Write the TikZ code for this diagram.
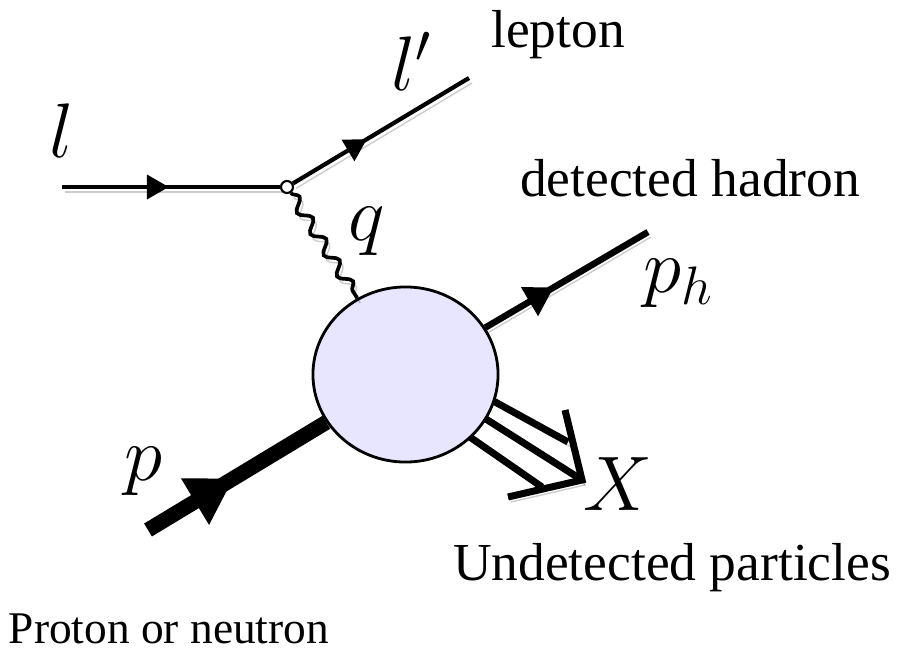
\documentclass[tikz,border=0pt]{standalone}
\usepackage{fix-cm}
\usepackage{amsmath}
\usepackage{fontspec}
\newfontfamily\labelfont{Liberation Serif}
\usepackage{tikz}
\usetikzlibrary{arrows.meta, decorations.markings, decorations.pathmorphing, shapes.geometric, backgrounds}

\definecolor{blobfill}{RGB}{231,229,255}

\begin{document}
\begin{tikzpicture}[x=0.01cm, y=-0.01cm,
    every node/.style={inner sep=0pt},
    textlabel/.style={font=\labelfont\fontsize{15.2}{18}\selectfont, anchor=base},
    momentum/.style={font=\fontsize{22}{26}\selectfont, anchor=base west},
    shadowed/.style={preaction={draw, black, opacity=0.2, transform canvas={shift={(3,5)}}}},
    midarrow/.style 2 args={postaction={decorate},
        decoration={markings, mark=at position #1 with {\arrow{#2}}}},
    fermion/.style={shadowed, line width=1.2pt,
        midarrow={#1}{Triangle[length=0.22cm, width=0.24cm]}},
    hadron/.style={shadowed, line width=1.85pt,
        midarrow={#1}{Triangle[length=0.28cm, width=0.32cm]}},
    nucleon/.style={shadowed, line width=4.3pt,
        midarrow={#1}{Triangle[length=0.45cm, width=0.51cm]}},
    photon/.style={shadowed, line width=1.05pt, decorate,
        decoration={snake, amplitude=0.055cm, segment length=0.25cm}},
    jet/.style={shadowed, line width=2pt},
    vertex/.style={circle, draw, line width=0.6pt, fill=white, minimum size=0.12cm},
    blob/.style={ellipse, draw, line width=0.8pt, fill=blobfill,
        minimum width=1.85cm, minimum height=1.75cm}
]
\useasboundingbox (0,0) rectangle (900,652);

% Vertices
\node[vertex] (vtx) at (287,187) {};
\node[blob] (blob) at (405.5,374.5) {};

% Lepton lines
\coordinate (lin) at (62,187);
\coordinate (lout) at (469,78);
\draw[fermion=0.49] (lin) -- (vtx);
\draw[fermion=0.42] (vtx) -- (lout);

% Virtual photon
\draw[photon] (vtx) -- (blob);

% Detected hadron
\coordinate (hout) at (648,232);
\draw[hadron=0.42] (blob) -- (hout);

% Incoming nucleon
\coordinate (pin) at (148,530);
\draw[nucleon=0.48] (pin) -- (blob);

% Undetected particles X
\coordinate (xup) at (568,442);
\coordinate (xtip) at (582,480);
\coordinate (xlow) at (542,487);
\coordinate (armup) at (565,410);
\coordinate (armlow) at (508,497);
\begin{scope}[on background layer]
\draw[jet, shorten <=-4pt] (blob.-17) -- (xup);
\draw[jet, shorten <=-4pt] (blob.-29) -- (xtip);
\draw[jet, shorten <=-4pt] (blob.-44) -- (xlow);
\end{scope}
\draw[jet, line join=miter] (armup) -- (xtip) -- (armlow);

% Momentum labels
\node[momentum] (lbl-l) at (49,158) {$l$};
\node[momentum] (lbl-lp) at (391,91) {$l'$};
\node[momentum] (lbl-q) at (348,241) {$q$};
\node[momentum] (lbl-ph) at (643,293) {$p_h$};
\node[momentum] (lbl-p) at (124,481) {$p$};
\node[momentum] (lbl-X) at (583,510) {$X$};

% Text labels
\node[textlabel] (lepton) at (558,48) {lepton};
\node[textlabel] (detected) at (690,197) {detected hadron};
\node[textlabel] (undetected) at (672,580) {Undetected particles};
\node[textlabel, font=\labelfont\fontsize{12.9}{15}\selectfont] (target) at (169,643) {Proton or neutron};

\end{tikzpicture}
\end{document}
